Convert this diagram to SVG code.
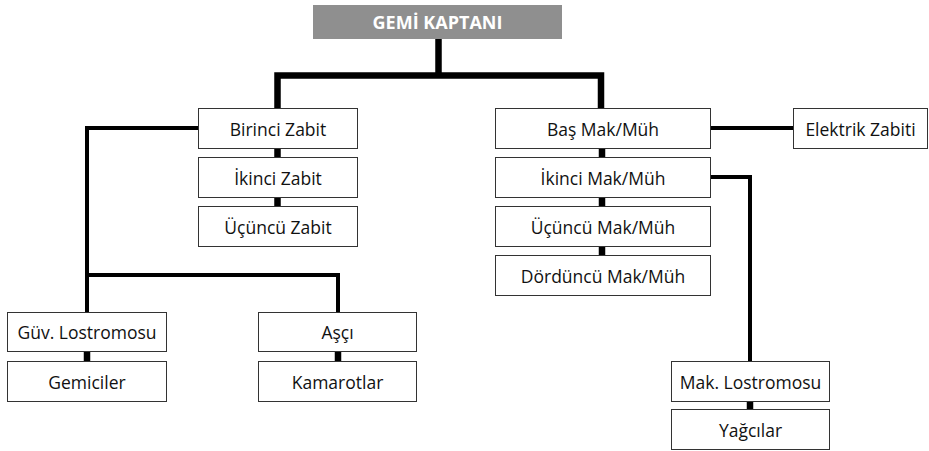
<svg xmlns="http://www.w3.org/2000/svg" width="929" height="451" viewBox="0 0 929 451">
<style>
.box{fill:#fff;stroke:#333;stroke-width:1}
.t{font-family:"Open Sans","Noto Sans","DejaVu Sans",sans-serif;font-size:17.5px;fill:#111;text-anchor:middle;dominant-baseline:central}
.th{font-family:"Open Sans","Noto Sans","DejaVu Sans",sans-serif;font-size:18px;font-weight:bold;fill:#fff;text-anchor:middle;dominant-baseline:central}
.thick{stroke:#000;stroke-width:6.5;fill:none}
.thin{stroke:#000;stroke-width:4;fill:none}
</style>
<rect width="929" height="451" fill="#fff"/>
<g id="connectors">
<path class="thick" d="M438.5 39 V75.5 M277.5 108 V75.5 H601 V108"/>
<path class="thick" d="M277.5 148 V157 M277.5 197 V207"/>
<path class="thick" d="M602 148 V157 M602 197 V207 M602 246 V255"/>
<path class="thin" d="M198 128 H87 V275 H338 V312 M87 275 V312"/>
<path class="thin" d="M710 128 H793"/>
<path class="thin" d="M710 177 H750 V361"/>
<path class="thick" d="M87 351 V361 M338 351 V361 M750 401 V409"/>
</g>
<g id="kaptan"><rect x="313" y="5" width="249" height="34" fill="#8f8f8f"/><text class="th" x="437.5" y="22">GEMİ KAPTANI</text></g>
<g id="birinci-zabit"><rect class="box" x="198.5" y="108.5" width="159" height="40"/><text class="t" x="278" y="128.5">Birinci Zabit</text></g>
<g id="ikinci-zabit"><rect class="box" x="198.5" y="157.5" width="159" height="40"/><text class="t" x="278" y="177.5">İkinci Zabit</text></g>
<g id="ucuncu-zabit"><rect class="box" x="198.5" y="206.5" width="159" height="40"/><text class="t" x="278" y="226.5">Üçüncü Zabit</text></g>
<g id="bas-mak"><rect class="box" x="495.5" y="108.5" width="215" height="40"/><text class="t" x="603" y="128.5">Baş Mak/Müh</text></g>
<g id="ikinci-mak"><rect class="box" x="495.5" y="157.5" width="215" height="40"/><text class="t" x="603" y="177.5">İkinci Mak/Müh</text></g>
<g id="ucuncu-mak"><rect class="box" x="495.5" y="206.5" width="215" height="40"/><text class="t" x="603" y="226.5">Üçüncü Mak/Müh</text></g>
<g id="dorduncu-mak"><rect class="box" x="495.5" y="255.5" width="215" height="40"/><text class="t" x="603" y="275.5">Dördüncü Mak/Müh</text></g>
<g id="elektrik"><rect class="box" x="793.5" y="108.5" width="134" height="40"/><text class="t" x="860.5" y="128.5">Elektrik Zabiti</text></g>
<g id="guv-lostromosu"><rect class="box" x="7.5" y="312.5" width="159" height="39"/><text class="t" x="87" y="332">Güv. Lostromosu</text></g>
<g id="gemiciler"><rect class="box" x="7.5" y="361.5" width="159" height="40"/><text class="t" x="87" y="381.5">Gemiciler</text></g>
<g id="asci"><rect class="box" x="258.5" y="312.5" width="158" height="39"/><text class="t" x="337.5" y="332">Aşçı</text></g>
<g id="kamarotlar"><rect class="box" x="258.5" y="361.5" width="158" height="40"/><text class="t" x="337.5" y="381.5">Kamarotlar</text></g>
<g id="mak-lostromosu"><rect class="box" x="671.5" y="361.5" width="158" height="40"/><text class="t" x="750.5" y="381.5">Mak. Lostromosu</text></g>
<g id="yagcilar"><rect class="box" x="671.5" y="409.5" width="158" height="40"/><text class="t" x="750.5" y="429.5">Yağcılar</text></g>
</svg>
